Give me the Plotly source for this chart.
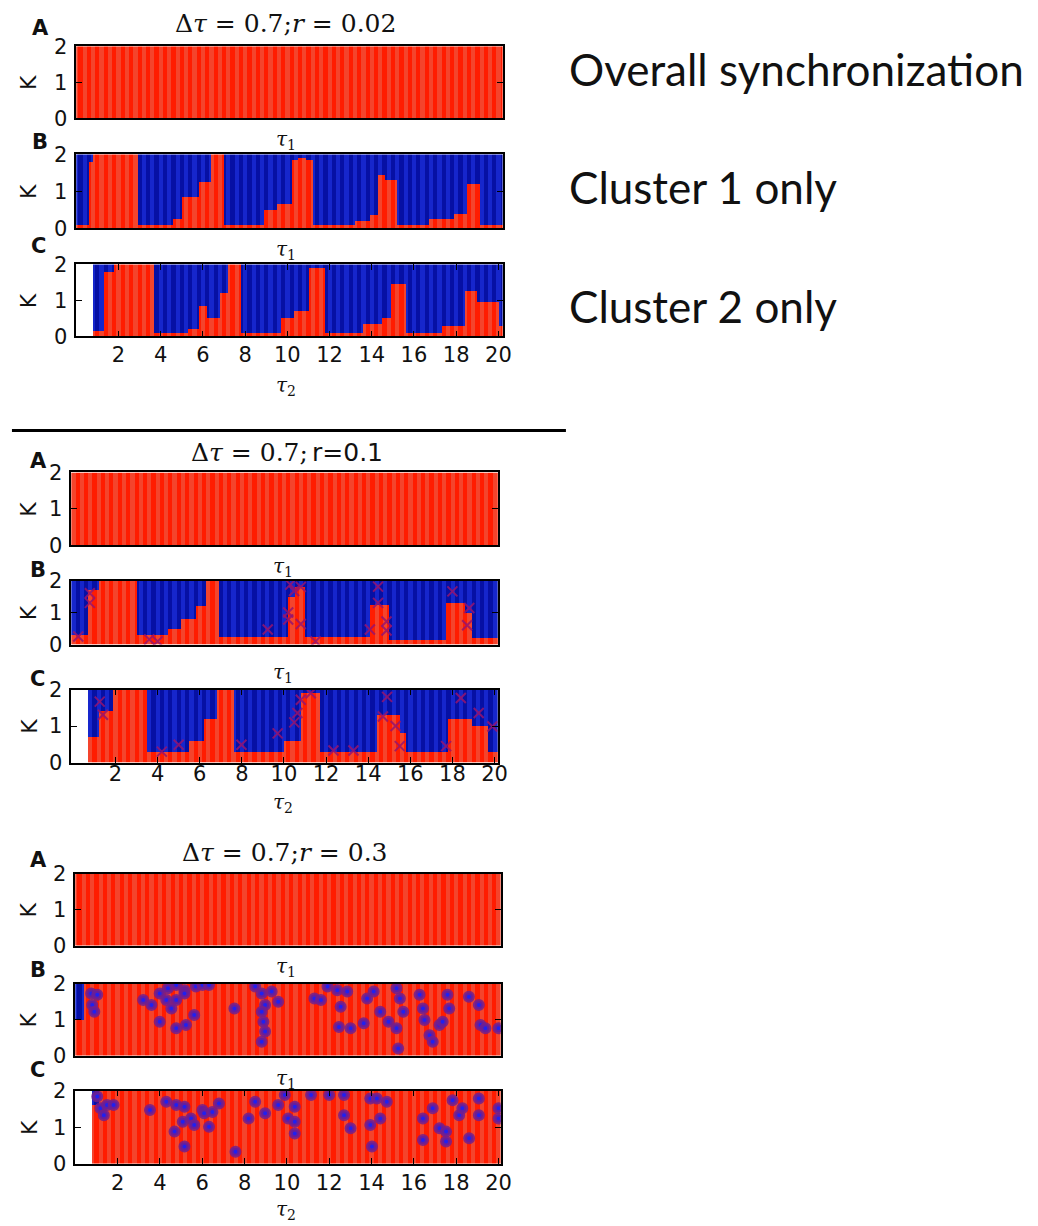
import numpy as np
import plotly.graph_objects as go

# ---------------- data ----------------
# Each B/C panel: red ("synchronized") region reaches up to K_TOP from TAU_START[i] until the next start
A_TAU = [-0.3]
A_K = [2.0]

# Delta tau = 0.7 ; r = 0.02
B1_TAU = [-0.3, 0.6, 0.85, 2.95, 4.6, 5.05, 5.8, 6.45, 7.0, 8.95, 9.55, 10.2, 10.5, 10.9, 11.2, 13.2, 13.9, 14.3, 14.6, 15.25, 16.7, 17.9, 18.5, 19.1]
B1_K = [0.1, 1.8, 2.0, 0.1, 0.25, 0.85, 1.25, 2.0, 0.1, 0.5, 0.65, 1.85, 1.9, 1.85, 0.1, 0.2, 0.35, 1.45, 1.3, 0.1, 0.25, 0.4, 1.2, 0.1]
C1_START = 0.82
C1_TAU = [0.82, 1.32, 1.8, 3.7, 5.3, 5.85, 6.2, 6.8, 7.25, 7.8, 9.7, 10.35, 11.05, 11.8, 13.6, 14.5, 14.95, 15.65, 17.35, 18.45, 19.05, 20.0]
C1_K = [0.15, 1.8, 2.0, 0.1, 0.2, 0.85, 0.5, 1.2, 2.0, 0.1, 0.5, 0.7, 1.9, 0.1, 0.35, 0.5, 1.45, 0.1, 0.3, 1.25, 0.95, 0.3]

# Delta tau = 0.7 ; r = 0.1
B2_TAU = [-0.3, 0.7, 1.25, 3.05, 4.5, 5.1, 5.8, 6.3, 6.95, 10.2, 10.5, 11.0, 14.1, 15.0, 17.7, 18.6, 18.9]
B2_K = [0.3, 1.7, 2.0, 0.3, 0.5, 0.8, 1.2, 2.0, 0.25, 1.5, 1.8, 0.25, 1.25, 0.15, 1.3, 1.0, 0.2]
C2_START = 0.75
C2_TAU = [0.75, 1.25, 1.95, 3.5, 5.5, 6.25, 6.8, 7.6, 10.0, 10.8, 11.7, 14.4, 15.5, 15.8, 17.85, 18.9, 19.7]
C2_K = [0.7, 1.4, 2.0, 0.3, 0.6, 1.2, 2.0, 0.3, 0.6, 1.9, 0.3, 1.3, 0.8, 0.3, 1.2, 1.0, 0.3]
B2_X_TAU = [0.23, 0.78, 0.78, 3.6, 4.0, 9.23, 10.3, 10.48, 10.8, 10.2, 10.8, 10.2, 11.5, 14.08, 14.47, 14.47, 14.87, 14.87, 18.0, 18.8, 18.7]
B2_X_K = [0.25, 1.6, 1.3, 0.16, 0.1, 0.47, 1.87, 1.67, 1.8, 0.78, 0.64, 1.0, 0.1, 0.47, 1.81, 1.3, 0.72, 0.44, 1.66, 1.14, 0.6]
C2_X_TAU = [1.25, 1.4, 4.2, 5.0, 7.98, 9.7, 10.49, 10.64, 10.8, 11.27, 14.9, 14.7, 15.3, 15.5, 17.7, 18.4, 19.25, 19.9, 12.35, 13.3]
C2_X_K = [1.67, 1.31, 0.3, 0.49, 0.49, 0.8, 1.1, 1.36, 1.72, 1.9, 1.8, 1.26, 1.0, 0.45, 0.45, 1.77, 1.36, 0.99, 0.33, 0.33]

# Delta tau = 0.7 ; r = 0.3
B3_TAU = [-0.3, 0.45]
B3_K = [1.0, 2.0]
C3_START = 0.76
C3_TAU = [0.76, 1.1]
C3_K = [1.6, 2.0]
B3_DOT_TAU = [0.75, 1.04, 0.8, 0.9, 3.21, 3.6, 3.99, 4.38, 4.77, 5.16, 5.7, 6.01, 6.32, 3.99, 4.3, 4.77, 5.16, 5.62, 5.23,
              4.77, 4.54, 7.52, 8.5, 8.81, 9.28, 8.97, 8.81, 8.89, 8.97, 8.81, 9.59, 11.3, 11.61, 11.92, 12.38, 12.54,
              12.46, 13.01, 13.63, 12.85, 13.79, 14.1, 14.41, 14.8, 15.18, 15.34, 15.5, 15.18, 15.26, 16.27, 16.43,
              16.5, 16.74, 16.89, 17.21, 17.36, 17.67, 17.59, 18.6, 19.07, 19.15, 19.38, 20.0]
B3_DOT_K = [1.73, 1.69, 1.41, 1.22, 1.55, 1.41, 1.73, 1.87, 1.96, 1.82, 1.92, 1.96, 1.96, 0.94, 1.55, 1.55, 1.73, 1.13, 0.85,
            0.76, 1.31, 1.31, 1.92, 1.73, 1.78, 1.41, 1.22, 0.94, 0.67, 0.39, 1.5, 1.59, 1.55, 1.92, 1.82, 1.36,
            0.8, 0.76, 0.9, 1.78, 1.59, 1.78, 1.22, 0.94, 1.87, 1.59, 1.22, 0.76, 0.2, 1.69, 1.31,
            0.99, 0.57, 0.39, 0.85, 0.94, 1.31, 1.69, 1.64, 1.41, 0.85, 0.76, 0.76]
C3_DOT_TAU = [1.04, 1.19, 1.35, 1.5, 1.81, 3.53, 4.3, 4.77, 5.16, 4.69, 5.16, 5.08, 5.47, 5.62, 6.01, 6.09, 6.32, 6.48,
              6.79, 7.57, 8.19, 8.5, 8.97, 9.59, 9.9, 10.06, 10.37, 10.37, 10.37, 11.14, 12.0, 12.7, 12.7, 13.01, 13.94,
              14.25, 14.41, 13.94, 14.02, 14.72, 16.43, 16.43, 16.89, 17.21, 17.52, 17.52, 17.83, 18.14, 18.29, 18.61,
              19.07, 19.07, 20.0, 20.0]
C3_DOT_K = [1.84, 1.52, 1.33, 1.61, 1.61, 1.47, 1.7, 1.61, 1.56, 0.88, 0.47, 1.15, 1.24, 1.06, 1.47, 1.38, 1.01, 1.42,
            1.65, 0.33, 1.24, 1.7, 1.38, 1.61, 1.88, 1.24, 1.15, 0.83, 1.56, 1.88, 1.88, 1.88, 1.33, 0.97, 1.79,
            1.79, 1.24, 1.06, 0.47, 1.7, 1.24, 0.65, 1.52, 0.97, 0.88, 0.61, 1.74, 1.33, 1.52, 0.7,
            1.79, 1.33, 1.52, 1.24]

X_TICKS = [2, 4, 6, 8, 10, 12, 14, 16, 18, 20]
K_TICKS = [0, 1, 2]
TITLES = ["Δ<i>τ</i> = 0.7;<i>r</i> = 0.02", "Δ<i>τ</i> = 0.7;", "Δ<i>τ</i> = 0.7;<i>r</i> = 0.3"]
SIDE_LABELS = ["Overall synchronization", "Cluster 1 only", "Cluster 2 only"]

# ---------------- styling ----------------
OFF = 8                       # default page margin around the figure
W, H = 1022, 1226
RED1, RED2 = "#ff1c00", "#f4442c"
BLUE1, BLUE2 = "#0610a4", "#1626cc"
SERIF = "DejaVu Serif"
SANS = "DejaVu Sans"
X_SHIFT = 4
Y_SCALE, Y_SHIFT = 0.98, 10.9


def fx(p):
    return (p + X_SHIFT - OFF) / W


def fy(p):
    return 1 - ((p - Y_SHIFT) / Y_SCALE - OFF) / H


# sampling grid for the heatmaps
tau_cells = np.arange(-0.25, 20.35, 0.1)
k_cells = np.arange(0.025, 2.0, 0.05)
shade = (np.floor((tau_cells + 0.25) / 0.2 + 1e-9) % 2).astype(int)


def panel_z(starts, tops, first=None):
    starts = np.asarray(starts)
    tops = np.asarray(tops)
    z = np.full((len(k_cells), len(tau_cells)), np.nan)
    for j, t in enumerate(tau_cells):
        if first is not None and t < first:
            continue
        i = max(np.searchsorted(starts, t, side="right") - 1, 0)
        red = k_cells < tops[i]
        z[:, j] = np.where(red, 2, 0) + shade[j]
    return z


cs = [[0, BLUE1], [0.1667, BLUE1], [0.1667, BLUE2], [0.5, BLUE2],
      [0.5, RED1], [0.8333, RED1], [0.8333, RED2], [1, RED2]]

groups = [
    dict(x=(73, 504), rng=(0, 20.2), rows=[(45, 117), (153, 227), (263, 335)], standoff=-1),
    dict(x=(68, 499), rng=(-0.1, 20.15), rows=[(471, 544), (579, 643), (688, 761)], standoff=-9),
    dict(x=(72, 502), rng=(0, 20.1), rows=[(872, 944), (982, 1054), (1089, 1162)], standoff=-1),
]
panels = [
    [(A_TAU, A_K, None), (B1_TAU, B1_K, None), (C1_TAU, C1_K, C1_START)],
    [(A_TAU, A_K, None), (B2_TAU, B2_K, None), (C2_TAU, C2_K, C2_START)],
    [(A_TAU, A_K, None), (B3_TAU, B3_K, None), (C3_TAU, C3_K, C3_START)],
]
xmarks = {(1, 1): (B2_X_TAU, B2_X_K), (1, 2): (C2_X_TAU, C2_X_K)}
dots = {(2, 1): (B3_DOT_TAU, B3_DOT_K), (2, 2): (C3_DOT_TAU, C3_DOT_K)}

fig = go.Figure()
layout = dict(width=W, height=H, margin=dict(l=0, r=0, t=0, b=0),
              paper_bgcolor="white", plot_bgcolor="white", showlegend=False)
annotations = []

idx = 0
for g, grp in enumerate(groups):
    for r in range(3):
        idx += 1
        xs = "x" if idx == 1 else f"x{idx}"
        ys = "y" if idx == 1 else f"y{idx}"
        starts, tops, first = panels[g][r]
        fig.add_trace(go.Heatmap(x=tau_cells, y=k_cells, z=panel_z(starts, tops, first),
                                 colorscale=cs, zmin=0, zmax=3, showscale=False,
                                 hoverinfo="skip", xaxis=xs, yaxis=ys))
        if (g, r) in xmarks:
            tx, tk = xmarks[(g, r)]
            fig.add_trace(go.Scatter(x=tx, y=tk, mode="markers", xaxis=xs, yaxis=ys,
                                     marker=dict(symbol="x-thin", size=10,
                                                 line=dict(color="rgba(150,20,110,0.85)", width=2)),
                                     hoverinfo="skip"))
        if (g, r) in dots:
            tx, tk = dots[(g, r)]
            fig.add_trace(go.Scatter(x=tx, y=tk, mode="markers", xaxis=xs, yaxis=ys,
                                     marker=dict(symbol="circle", size=8, color="#2020f0",
                                                 line=dict(color="rgba(115,30,140,0.85)", width=4)),
                                     hoverinfo="skip"))
        top, bot = grp["rows"][r]
        is_c = (r == 2)
        layout["xaxis" if idx == 1 else f"xaxis{idx}"] = dict(
            domain=[fx(grp["x"][0]), fx(grp["x"][1])], range=list(grp["rng"]), anchor=ys,
            showline=True, linecolor="black", linewidth=1.5, mirror="ticks" if is_c else True,
            ticks="inside" if is_c else "", tickvals=X_TICKS, ticklen=6, tickcolor="black",
            showticklabels=is_c, tickfont=dict(family=SANS, size=21, color="#111"),
            ticklabelstandoff=grp["standoff"], showgrid=False, zeroline=False, fixedrange=True)
        layout["yaxis" if idx == 1 else f"yaxis{idx}"] = dict(
            domain=[fy(bot), fy(top)], range=[0, 2], anchor=xs,
            showline=True, linecolor="black", linewidth=1.5, mirror="ticks",
            ticks="inside", tickvals=K_TICKS, ticklen=6, tickcolor="black",
            tickfont=dict(family=SANS, size=21, color="#111"), ticklabelstandoff=3,
            showgrid=False, zeroline=False, fixedrange=True)
        # K label
        annotations.append(dict(x=fx(25), y=fy((top + bot) / 2), xref="paper", yref="paper",
                                text="K", textangle=-90, showarrow=False,
                                font=dict(family=SANS, size=22, color="#111"),
                                xanchor="center", yanchor="middle"))

# panel letters
letter_pos = [[(37, 27), (36, 141), (35, 245)],
              [(35, 460), (34, 569), (34, 677)],
              [(35, 858), (34, 968), (34, 1068)]]
for g in range(3):
    for r, L in enumerate("ABC"):
        x, y = letter_pos[g][r]
        annotations.append(dict(x=fx(x), y=fy(y), xref="paper", yref="paper", text=f"<b>{L}</b>",
                                showarrow=False, font=dict(family=SANS, size=21, color="#111"),
                                xanchor="center", yanchor="middle"))

# tau labels
tau_pos = [[(285, 139), (285, 249), (285, 385)],
           [(282, 566), (282, 671), (282, 801)],
           [(285, 965), (285, 1077), (285, 1208)]]
for g in range(3):
    for r in range(3):
        x, y = tau_pos[g][r]
        sub = "2" if r == 2 else "1"
        annotations.append(dict(x=fx(x), y=fy(y), xref="paper", yref="paper",
                                text=f"<i>τ</i><sub>{sub}</sub>", showarrow=False,
                                font=dict(family=SERIF, size=20, color="#111"),
                                xanchor="center", yanchor="middle"))

# titles
annotations.append(dict(x=fx(285), y=fy(22), xref="paper", yref="paper", text=TITLES[0],
                        showarrow=False, font=dict(family=SERIF, size=25, color="#111"),
                        xanchor="center", yanchor="middle"))
annotations.append(dict(x=fx(309), y=fy(451), xref="paper", yref="paper", text=TITLES[1],
                        showarrow=False, font=dict(family=SERIF, size=25, color="#111"),
                        xanchor="right", yanchor="middle"))
annotations.append(dict(x=fx(309), y=fy(451), xref="paper", yref="paper", text="r=0.1",
                        showarrow=False, font=dict(family=SANS, size=25, color="#111"),
                        xanchor="left", yanchor="middle"))
annotations.append(dict(x=fx(284), y=fy(851), xref="paper", yref="paper", text=TITLES[2],
                        showarrow=False, font=dict(family=SERIF, size=25, color="#111"),
                        xanchor="center", yanchor="middle"))

# side labels
for txt, y in zip(SIDE_LABELS, [68, 186, 305]):
    annotations.append(dict(x=fx(569), y=fy(y), xref="paper", yref="paper", text=txt,
                            showarrow=False, font=dict(family="Lato", size=44, color="#111"),
                            xanchor="left", yanchor="middle"))

layout["annotations"] = annotations
layout["shapes"] = [dict(type="line", xref="paper", yref="paper", x0=fx(8), x1=fx(568),
                         y0=fy(429), y1=fy(429), line=dict(color="black", width=3))]
fig.update_layout(**layout)
fig.write_html("out.html")
